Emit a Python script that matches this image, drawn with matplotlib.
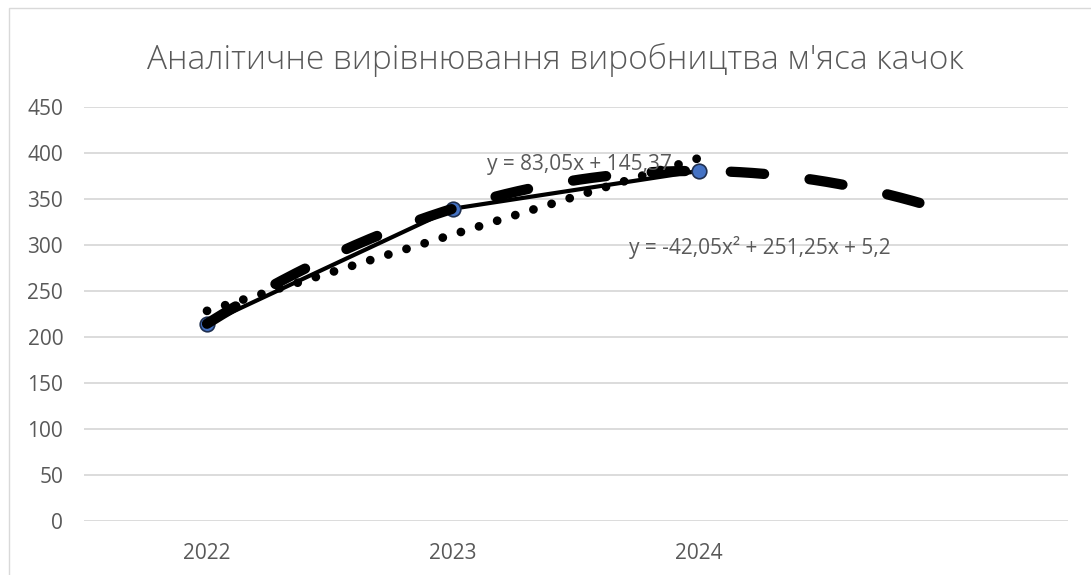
import numpy as np
import matplotlib.pyplot as plt
from matplotlib.patches import Rectangle

# дані
years = ['2022', '2023', '2024']
values = [214.4, 339.5, 380.5]
yticks = [0, 50, 100, 150, 200, 250, 300, 350, 400, 450]
title = "Аналітичне вирівнювання виробництва м'яса качок"
eq_lin = 'y = 83,05x + 145,37'
eq_poly = 'y = -42,05x² + 251,25x + 5,2'
forward = 1  # прогноз вперед, періодів

plt.rcParams['font.family'] = ['Open Sans', 'DejaVu Sans']
grey = '#595959'

fig = plt.figure(figsize=(10.91, 5.75), dpi=100)
ax = fig.add_axes([84/1091, 54/575, 984/1091, 414/575])

# тренди як в Excel (x = 1, 2, 3 ...)
t = np.arange(1, len(values) + 1)
k_lin = np.polyfit(t, values, 1)
k_poly = np.polyfit(t, values, 2)
x_lin = np.linspace(1, len(values), 200)
x_poly = np.linspace(1, len(values) + forward, 300)

ax.plot(t - 1, values, color='black', lw=3, marker='o', ms=10.5,
        mfc='#4472C4', mec='#1F2F4F', mew=1.2, zorder=3)
ax.plot(x_lin - 1, np.polyval(k_lin, x_lin), color='black', lw=6.3,
        dashes=(0.01, 2.16), dash_capstyle='round', zorder=4)
ax.plot(x_poly - 1, np.polyval(k_poly, x_poly), color='black', lw=7.4,
        dashes=(3.25, 4.45), dash_capstyle='round', zorder=5)

ax.text(1.516, 388, eq_lin, ha='center', va='center', fontsize=15, color=grey, zorder=6)
ax.text(2.248, 297.8, eq_poly, ha='center', va='center', fontsize=15, color=grey, zorder=6)

ax.set_xlim(-0.5, len(values) + forward - 0.5)
ax.set_ylim(0, 450)
ax.set_xticks(range(len(years)), years)
ax.set_yticks(yticks)
ax.grid(axis='y', color='#D9D9D9', lw=1.3)
ax.set_axisbelow(True)
for s in ax.spines.values():
    s.set_visible(False)
ax.tick_params(axis='both', length=0, labelsize=15, labelcolor=grey)
ax.tick_params(axis='y', pad=15)
ax.tick_params(axis='x', pad=16)

fig.text(555/1091, 1 - 60/575, title, ha='center', va='center', fontsize=24,
         fontweight='light', color=grey)

# рамка діаграми
fig.add_artist(Rectangle((9/1091, -0.1), 1.2, 567/575 + 0.1, transform=fig.transFigure,
                         fill=False, edgecolor='#D9D9D9', lw=1))

fig.savefig('out.png', dpi=100)
